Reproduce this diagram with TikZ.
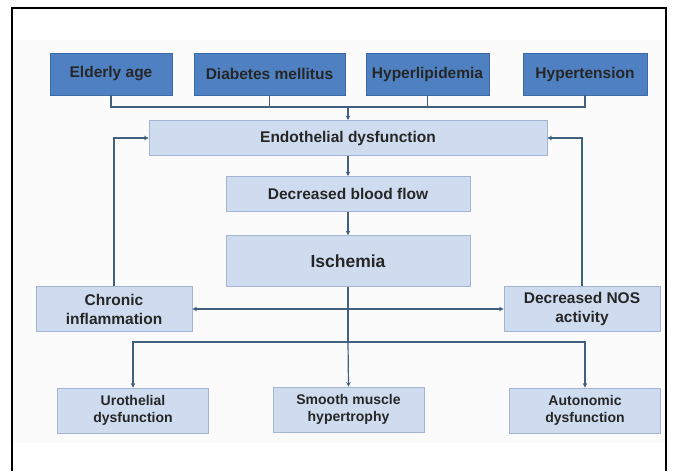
\documentclass[tikz,border=0pt]{standalone}
\usepackage{fontspec}
\setmainfont{Liberation Sans}
\usepackage{tikz}
\usetikzlibrary{arrows.meta, positioning, calc}
\usepackage{xcolor}
\definecolor{riskcolor}{HTML}{4F81C2}
\definecolor{riskborder}{HTML}{3B6AA6}
\definecolor{stagecolor}{HTML}{CFDCEF}
\definecolor{stageborder}{HTML}{A3B5D3}
\definecolor{linkcolor}{HTML}{41607F}
\definecolor{panelcolor}{HTML}{FBFBFC}

\begin{document}
\begin{tikzpicture}[
    x=1pt, y=-1pt,
    riskbox/.style={rectangle, draw=riskborder, fill=riskcolor, line width=0.8pt,
                minimum height=42pt, font=\bfseries\fontsize{15.5}{18}\selectfont, text=black!85},
    stagebox/.style={rectangle, draw=stageborder, fill=stagecolor, line width=0.8pt,
                align=center, font=\bfseries\fontsize{15.5}{19}\selectfont, text=black!85},
    outbox/.style={stagebox, minimum width=151pt, minimum height=45pt,
                font=\bfseries\fontsize{14}{16.5}\selectfont},
    link/.style={draw=linkcolor, line width=1.2pt},
    arrow/.style={link, -{Stealth[length=4.5pt, width=4.5pt]}},
]
\useasboundingbox (0,0) rectangle (679,471);

% Frame
\fill[panelcolor] (13,40) rectangle (665,443);
\draw[line width=1.5pt] (12,471) -- (12,8) -- (666,8) -- (666,471);

% Risk factors
\node[riskbox, minimum width=122pt] (elderly) at (111,74) {Elderly age};
\node[riskbox, minimum width=151pt] (diabetes) at (269.5,74) {Diabetes mellitus};
\node[riskbox, minimum width=123pt] (hyperlip) at (427.5,74) {Hyperlipidemia};
\node[riskbox, minimum width=124pt] (hypertens) at (585,74) {Hypertension};

% Main chain
\node[stagebox, minimum width=398pt, minimum height=35pt] (endo) at (348,138) {Endothelial dysfunction};
\node[stagebox, minimum width=244pt, minimum height=35pt] (flow) at (348,194) {Decreased blood flow};
\node[stagebox, minimum width=244pt, minimum height=51pt,
      font=\bfseries\fontsize{17.5}{20}\selectfont] (ischemia) at (348,261) {Ischemia};

% Feedback
\node[stagebox, minimum width=156pt, minimum height=45pt] (inflam) at (114,309) {Chronic\\inflammation};
\node[stagebox, minimum width=156pt, minimum height=45pt] (nos) at (582,309) {Decreased NOS\\activity};

% Outcomes
\node[outbox] (uro) at (133,410.5) {Urothelial\\dysfunction};
\node[outbox] (smooth) at (348.5,409.5) {Smooth muscle\\hypertrophy};
\node[outbox] (auto) at (585,410.5) {Autonomic\\dysfunction};

% Risk factor bus
\coordinate (riskbus) at (348,107);
\draw[link] (elderly.south) |- (riskbus);
\draw[link] (hypertens.south) |- (riskbus);
\draw[link] (diabetes.south) -- (diabetes.south |- riskbus);
\draw[link] (hyperlip.south) -- (hyperlip.south |- riskbus);
\draw[arrow] (riskbus) -- (endo.north);

% Chain arrows
\draw[arrow] (endo) -- (flow);
\draw[arrow] (flow) -- (ischemia);

% Loops back to endothelium
\draw[arrow] (inflam.north) |- (endo.west);
\draw[arrow] (nos.north) |- (endo.east);

% Ischemia outputs
\coordinate (outbus) at (348,342);
\draw[link] (ischemia.south) -- (outbus);
\draw[link, {Stealth[length=4.5pt, width=4.5pt]}-{Stealth[length=4.5pt, width=4.5pt]}] (inflam.east) -- (nos.west);
\draw[arrow] (outbus) -| (uro.north);
\draw[arrow] (outbus) -| (auto.north);
\draw[arrow] (outbus) -- (smooth.north);

\end{tikzpicture}
\end{document}
